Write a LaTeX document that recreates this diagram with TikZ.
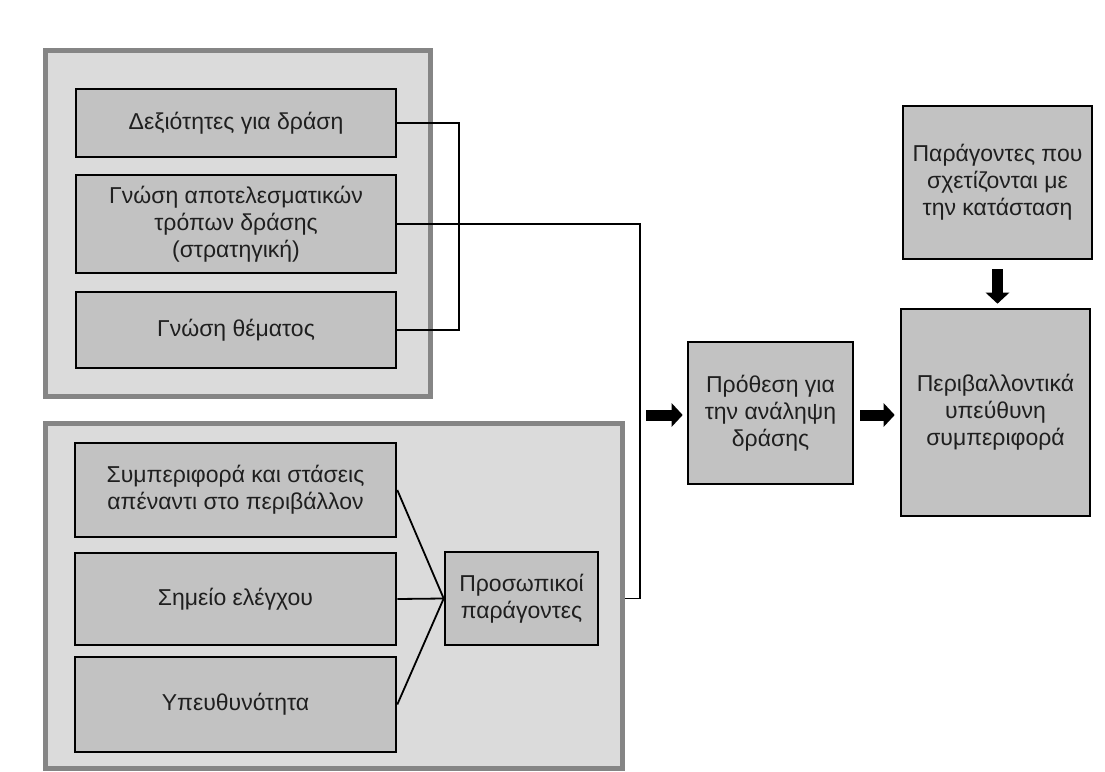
\documentclass[tikz,border=0pt]{standalone}
\usepackage{fontspec}
\setmainfont{Liberation Sans}
\usetikzlibrary{arrows.meta}
\definecolor{boxgray}{gray}{0.76}
\definecolor{panelgray}{gray}{0.86}
\definecolor{rimgray}{gray}{0.52}
\begin{document}
\begin{tikzpicture}[x=1pt, y=-1pt,
  every node/.style = {shape=rectangle, align=center, inner sep=2pt,
    font=\fontsize{23}{27}\selectfont, text=black!88},
  panel/.style = {draw=rimgray, fill=panelgray, line width=5pt},
  factor/.style = {draw=black, fill=boxgray, line width=2.6pt},
  link/.style = {draw=black, line width=1.8pt},
  blockarrow/.style = {line width=11pt, -{Triangle[length=11pt,width=23pt]}}]
  \useasboundingbox (0,0) rectangle (1105,771);
  \node[panel, minimum width=385pt, minimum height=346pt] (know) at (237.5,223) {};
  \node[panel, minimum width=577pt, minimum height=345pt] (pers) at (333.5,595.5) {};
  \coordinate (bus) at (640,0);
  \node[factor, minimum width=320pt, minimum height=68pt] (skills) at (236,123) {Δεξιότητες για δράση};
  \node[factor, minimum width=320pt, minimum height=98pt] (strategy) at (236,224)
    {Γνώση αποτελεσματικών\\τρόπων δράσης\\(στρατηγική)};
  \node[factor, minimum width=320pt, minimum height=76pt] (topic) at (236,330) {Γνώση θέματος};
  \node[factor, minimum width=321pt, minimum height=94pt] (attitudes) at (235.5,490)
    {Συμπεριφορά και στάσεις\\απέναντι στο περιβάλλον};
  \node[factor, minimum width=321pt, minimum height=92pt] (locus) at (235.5,599) {Σημείο ελέγχου};
  \node[factor, minimum width=321pt, minimum height=95pt] (resp) at (235.5,704.5) {Υπευθυνότητα};
  \node[factor, minimum width=153pt, minimum height=93pt] (personal) at (521.5,598.5)
    {Προσωπικοί\\παράγοντες};
  \node[factor, minimum width=165pt, minimum height=142pt] (intention) at (770.5,413)
    {Πρόθεση για\\την ανάληψη\\δράσης};
  \node[factor, minimum width=189pt, minimum height=207pt] (behaviour) at (995.5,412.5)
    {Περιβαλλοντικά\\υπεύθυνη\\συμπεριφορά};
  \node[factor, minimum width=189pt, minimum height=153pt] (situation) at (997.5,182.5)
    {Παράγοντες που\\σχετίζονται με\\την κατάσταση};
  \draw[link] (skills.east) -- ++(62pt,0) |- (topic.east);
  \draw[link] (strategy.east) -| (bus |- personal.east) -- (pers.east |- personal.east);
  \foreach \n in {attitudes,locus,resp}
    \draw[link] (\n.east) -- (personal.west);
  \coordinate (feed) at (646,415);
  \draw[blockarrow, shorten >=4pt] (feed) -- (intention.west |- feed);
  \draw[blockarrow, shorten <=6pt, shorten >=5pt] (intention.east |- feed) -- (behaviour.west |- feed);
  \draw[blockarrow, shorten <=9pt, shorten >=4pt] (situation.south) -- (situation.south |- behaviour.north);
\end{tikzpicture}
\end{document}
